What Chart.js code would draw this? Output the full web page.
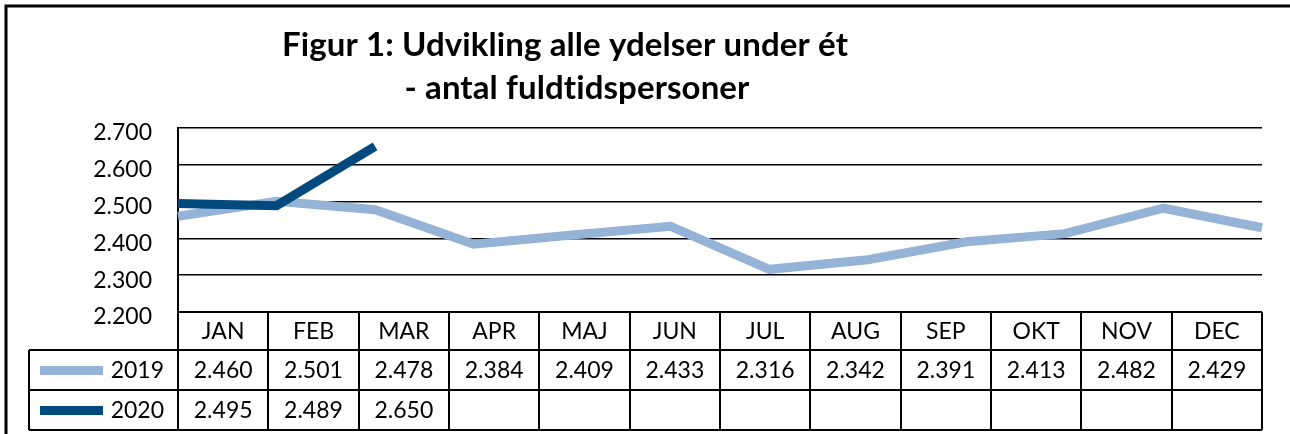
<!DOCTYPE html>
<html>
<head>
<meta charset="utf-8">
<script src="https://cdn.jsdelivr.net/npm/chart.js@4"></script>
<style>
  html, body { margin: 0; padding: 0; background: #fff; }
  #wrap { width: 1290px; height: 434px; }
</style>
</head>
<body>
<div id="wrap"><canvas id="fig1"></canvas></div>
<script>
// data
var months = ['JAN','FEB','MAR','APR','MAJ','JUN','JUL','AUG','SEP','OKT','NOV','DEC'];
var series2019 = [2460, 2501, 2478, 2384, 2409, 2433, 2316, 2342, 2391, 2413, 2482, 2429];
var series2020 = [2495, 2489, 2650];
var yMin = 2200, yMax = 2700, yStep = 100;
var titleLines = ['Figur 1: Udvikling alle ydelser under ét', '- antal fuldtidspersoner'];

var col2019 = '#95b3d7';
var col2020 = '#03497e';
var fontName = 'Lato, "Open Sans", sans-serif';

// danish style number: 2460 -> 2.460
function fmt(n) {
  return (n / 1000).toFixed(3);
}

// outer frame, title, and the data table under the plot
var figPlugin = {
  id: 'figPlugin',
  beforeDraw: function(chart) {
    var ctx = chart.ctx;
    ctx.save();
    ctx.fillStyle = '#fff';
    ctx.fillRect(0, 0, chart.width, chart.height);
    ctx.strokeStyle = '#000';
    ctx.lineWidth = 3;
    ctx.beginPath();
    ctx.moveTo(6, chart.height);
    ctx.lineTo(6, 6);
    ctx.lineTo(chart.width, 6);
    ctx.stroke();

    ctx.fillStyle = '#000';
    ctx.font = 'bold 33px ' + fontName;
    ctx.letterSpacing = '0.1px'; // keeps "ti" from turning into a ligature
    ctx.textAlign = 'center';
    ctx.textBaseline = 'middle';
    ctx.fillText(titleLines[0], 565, 45);
    ctx.fillText(titleLines[1], 577, 88);
    ctx.restore();
  },
  afterDraw: function(chart) {
    var ctx = chart.ctx;
    var area = chart.chartArea;
    var left = area.left, right = area.right;
    var colW = (right - left) / months.length;
    var y0 = area.bottom, y1 = y0 + 38, y2 = y1 + 40, y3 = y2 + 40;
    var legL = 29;

    ctx.save();
    ctx.strokeStyle = '#000';
    ctx.lineWidth = 2;
    ctx.beginPath();
    ctx.moveTo(left, y0); ctx.lineTo(right, y0);
    [y1, y2, y3].forEach(function(y) {
      ctx.moveTo(legL, y); ctx.lineTo(right, y);
    });
    ctx.moveTo(legL, y1); ctx.lineTo(legL, y3);
    for (var i = 0; i <= months.length; i++) {
      var x = Math.round(left + i * colW);
      ctx.moveTo(x, y0); ctx.lineTo(x, y3);
    }
    ctx.stroke();

    ctx.fillStyle = '#000';
    ctx.font = '23px ' + fontName;
    ctx.textAlign = 'center';
    ctx.textBaseline = 'middle';
    for (var j = 0; j < months.length; j++) {
      var cx = left + (j + 0.5) * colW;
      ctx.fillText(months[j], cx, (y0 + y1) / 2 + 1);
      if (series2019[j] != null) ctx.fillText(fmt(series2019[j]), cx, (y1 + y2) / 2 + 1);
      if (series2020[j] != null) ctx.fillText(fmt(series2020[j]), cx, (y2 + y3) / 2 + 1);
    }

    // legend keys inside the table
    var rows = [['2019', col2019, (y1 + y2) / 2], ['2020', col2020, (y2 + y3) / 2]];
    rows.forEach(function(r) {
      ctx.fillStyle = r[1];
      ctx.fillRect(40, r[2] - 4, 63, 9);
      ctx.fillStyle = '#000';
      ctx.textAlign = 'right';
      ctx.fillText(r[0], 164, r[2] + 1);
    });
    ctx.restore();
  }
};

new Chart(document.getElementById('fig1').getContext('2d'), {
  type: 'line',
  data: {
    labels: months,
    datasets: [{
        label: '2019',
        data: series2019,
        borderColor: col2019,
        borderWidth: 9,
        pointRadius: 0,
        order: 1,
        fill: false
      }, {
        label: '2020',
        data: series2020,
        borderColor: col2020,
        borderWidth: 9,
        pointRadius: 0,
        order: 0,
        fill: false
      }
    ]
  },
  options: {
    responsive: true,
    maintainAspectRatio: false,
    animation: false,
    layout: {
      padding: { left: 0, right: 28, top: 128, bottom: 122 }
    },
    plugins: {
      legend: { display: false },
      title: { display: false },
      tooltip: { enabled: false }
    },
    scales: {
      x: {
        display: false,
        offset: false
      },
      y: {
        min: yMin,
        max: yMax,
        afterFit: function(scale) { scale.width = 178; },
        border: { display: true, color: '#000', width: 2 },
        grid: { color: '#000', lineWidth: 1.5, drawTicks: false },
        ticks: {
          stepSize: yStep,
          padding: 26,
          labelOffset: 5,
          color: '#000',
          font: { family: fontName, size: 23 },
          callback: function(v) { return fmt(v); }
        }
      }
    }
  },
  plugins: [figPlugin]
});
</script>
</body>
</html>
